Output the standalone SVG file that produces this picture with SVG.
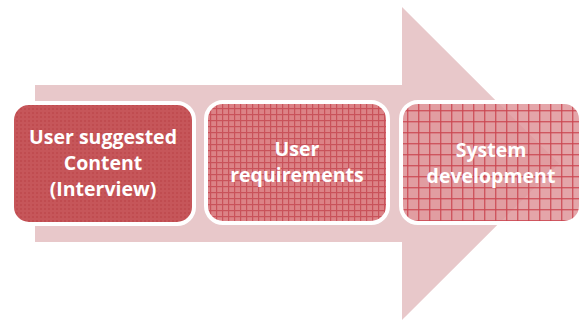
<svg xmlns="http://www.w3.org/2000/svg" width="584" height="324" viewBox="0 0 584 324">
<defs>
<pattern id="p1" width="4" height="4" patternUnits="userSpaceOnUse">
<rect width="4" height="4" fill="#c6565a"/>
<rect width="2" height="2" fill="#c04c50"/>
</pattern>
<pattern id="p2" width="6" height="6" patternUnits="userSpaceOnUse">
<rect width="6" height="6" fill="#dc8286"/>
<rect width="6" height="1.2" fill="#c9525a"/>
<rect width="1.2" height="6" fill="#c9525a"/>
</pattern>
<pattern id="p3" width="11" height="11" patternUnits="userSpaceOnUse">
<rect width="11" height="11" fill="#e0959a" fill-opacity="0.85"/>
<rect width="11" height="1.4" fill="#c9434d" fill-opacity="0.8"/>
<rect width="1.4" height="11" fill="#c9434d" fill-opacity="0.8"/>
</pattern>
<style>
.box{stroke:#ffffff;stroke-width:4}
.t{font-family:"Open Sans","Liberation Sans",sans-serif;font-weight:bold;font-size:19.5px;fill:#ffffff;text-anchor:middle}
</style>
</defs>
<g id="arrow">
<polygon points="35,85 402,85 402,7 559,163.5 402,320 402,242 35,242" fill="#e8c8ca"/>
</g>
<g id="node1">
<rect class="box" x="12" y="103" width="182" height="121" rx="17" fill="url(#p1)"/>
<text class="t" x="103" y="144">User suggested</text>
<text class="t" x="103" y="170">Content</text>
<text class="t" x="103" y="196">(Interview)</text>
</g>
<g id="node2">
<rect class="box" x="206" y="102" width="182" height="121" rx="17" fill="url(#p2)"/>
<text class="t" x="297" y="156">User</text>
<text class="t" x="297" y="182">requirements</text>
</g>
<g id="node3">
<rect class="box" x="401" y="102" width="180" height="121" rx="17" fill="url(#p3)"/>
<text class="t" x="491" y="157">System</text>
<text class="t" x="491" y="183">development</text>
</g>
</svg>
